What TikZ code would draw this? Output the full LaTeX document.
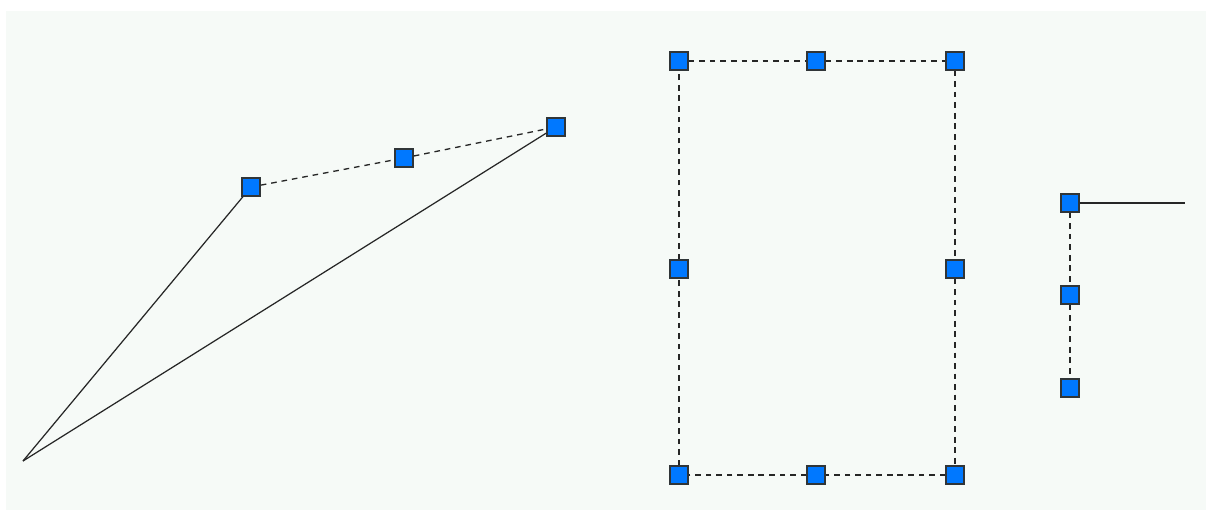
\documentclass[tikz,border=0pt]{standalone}
\usepackage{tikz}
\definecolor{bgc}{HTML}{F6FAF7}
\definecolor{gripc}{HTML}{0078FF}
\definecolor{edgec}{HTML}{303538}
\tikzset{gr/.style = {rectangle, fill=gripc, draw=edgec, line width=0.9pt, minimum size=0.36cm, inner sep=0pt},
           ln/.style = {draw=black!85, line width=0.7pt},
           dl/.style = {draw=black!85, line width=0.75pt, dash pattern=on 3.2pt off 2.8pt}}

\begin{document}
\begin{tikzpicture}[x=0.02cm, y=-0.02cm]
    \useasboundingbox (0,0) rectangle (1208,510);
    \fill[white] (0,0) rectangle (1208,510);
    \fill[bgc] (6,11) rectangle (1206,510);
    % polyline with arc grips
    \coordinate (p) at (23,461);
    \node[gr] (a) at (251,187) {}; \node[gr] (b) at (404,158) {}; \node[gr] (c) at (556,127) {};
    \draw[ln] (p) -- (a);
    \draw[ln] (p) -- (c);
    \draw[dl] (a) -- (b) -- (c);
    % rectangle
    \node[gr] (r1) at (679,61) {};  \node[gr] (r2) at (816,61) {};  \node[gr] (r3) at (955,61) {};
    \node[gr] (r4) at (679,269) {}; \node[gr] (r5) at (955,269) {};
    \node[gr] (r6) at (679,475) {}; \node[gr] (r7) at (816,475) {}; \node[gr] (r8) at (955,475) {};
    \draw[dl] (r1) -- (r2) -- (r3);
    \draw[dl] (r3) -- (r5) -- (r8);
    \draw[dl] (r8) -- (r7) -- (r6);
    \draw[dl] (r6) -- (r4) -- (r1);
    % vertical segment
    \node[gr] (v1) at (1070,203) {}; \node[gr] (v2) at (1070,295) {}; \node[gr] (v3) at (1070,388) {};
    \coordinate (q) at (1185,203);
    \draw[dl] (v1) -- (v2) -- (v3);
    \draw[ln] (v1) -- (q);
\end{tikzpicture}
\end{document}
